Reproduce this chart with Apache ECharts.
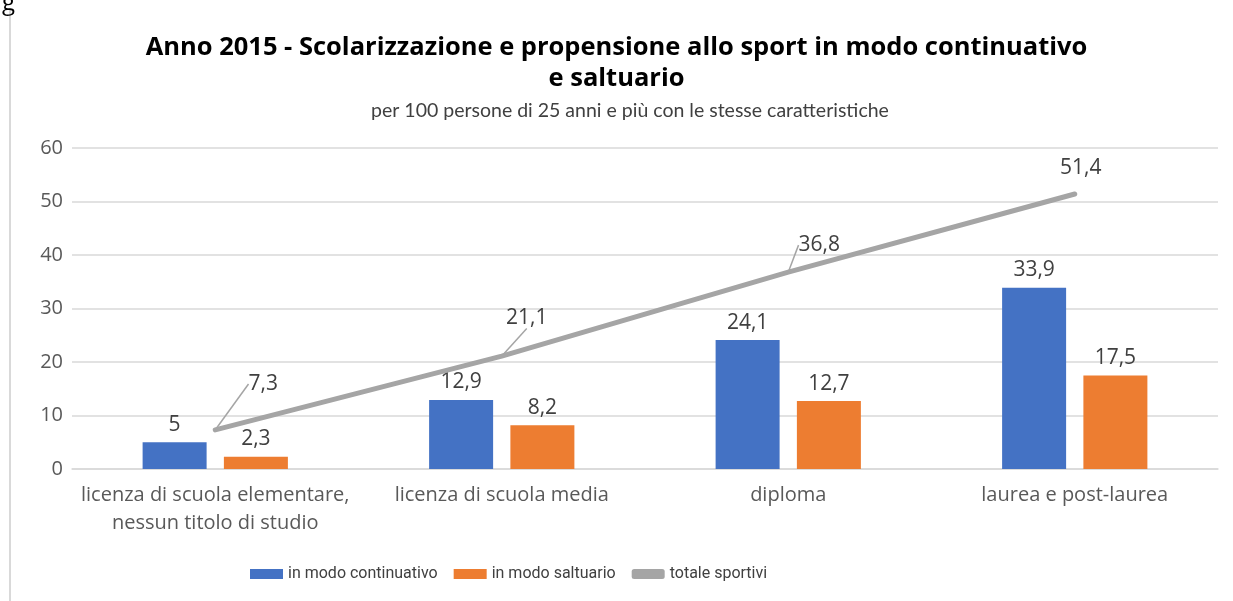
<!DOCTYPE html>
<html>
<head>
<meta charset="utf-8">
<script src="https://cdn.jsdelivr.net/npm/echarts@6/dist/echarts.min.js"></script>
<style>
  html, body { margin: 0; padding: 0; background: #fff; }
  #chart { width: 1233px; height: 601px; }
</style>
</head>
<body>
<div id="chart"></div>
<script>
const categories = ['licenza di scuola elementare,\nnessun titolo di studio', 'licenza di scuola media', 'diploma', 'laurea e post-laurea'];
const continuativo = [5, 12.9, 24.1, 33.9];
const saltuario = [2.3, 8.2, 12.7, 17.5];
const totale = [7.3, 21.1, 36.8, 51.4];
const yTicks = [0, 10, 20, 30, 40, 50, 60];

// spostamento etichette della linea (come nell'originale)
const labelShift = [[48, -30], [25, -22], [31, -11], [6, -10]];
const showLeader = [true, true, true, false];

const fontFam = '"Open Sans", sans-serif';
const fmt = v => String(v).replace('.', ',');

const chart = echarts.init(document.getElementById('chart'));
chart.setOption({
  animation: false,
  textStyle: { fontFamily: fontFam },
  title: [
    {
      text: 'Anno 2015 - Scolarizzazione e propensione allo sport in modo continuativo\ne saltuario',
      left: 'center',
      top: 27,
      textStyle: { fontSize: 25.5, fontWeight: 'bold', color: '#000', lineHeight: 31, fontFamily: fontFam }
    },
    {
      text: 'per 100 persone di 25 anni e più con le stesse caratteristiche',
      left: 366,
      top: 96,
      textStyle: { fontSize: 19.5, fontWeight: 'normal', color: '#404040', fontFamily: 'Lato, sans-serif' }
    },
    {
      text: 'g',
      left: 2,
      top: -9,
      padding: 0,
      textStyle: { fontSize: 24, fontWeight: 'normal', color: '#000', fontFamily: fontFam }
    }
  ],
  graphic: [
    { type: 'line', shape: { x1: 10, y1: 8, x2: 10, y2: 601 }, style: { stroke: '#d9d9d9', lineWidth: 2 } }
  ],
  legend: {
    bottom: 14,
    left: 245,
    itemWidth: 33,
    itemHeight: 10,
    itemGap: 16,
    textStyle: { fontSize: 16, color: '#404040', fontFamily: 'Roboto, sans-serif' },
    data: [
      { name: 'in modo continuativo', icon: 'rect' },
      { name: 'in modo saltuario', icon: 'rect' },
      { name: 'totale sportivi', icon: 'roundRect', itemStyle: { color: '#a5a5a5' } }
    ]
  },
  grid: { left: 72, right: 15, top: 148, bottom: 132 },
  xAxis: {
    type: 'category',
    data: categories,
    axisTick: { show: false },
    axisLine: { lineStyle: { color: '#d9d9d9', width: 1.5 } },
    axisLabel: { fontSize: 20, color: '#595959', margin: 12, lineHeight: 28, interval: 0 }
  },
  yAxis: {
    type: 'value',
    min: yTicks[0],
    max: yTicks[yTicks.length - 1],
    interval: 10,
    axisLine: { show: false },
    axisTick: { show: false },
    splitLine: { lineStyle: { color: '#d9d9d9', width: 1.5 } },
    axisLabel: { fontSize: 20, color: '#595959', margin: 9 }
  },
  series: [
    {
      name: 'in modo continuativo',
      type: 'bar',
      data: continuativo,
      barWidth: 64,
      barGap: '27%',
      itemStyle: { color: '#4472c4' },
      label: { show: true, position: 'top', distance: 7, fontSize: 21, color: '#404040', formatter: p => fmt(p.value) }
    },
    {
      name: 'in modo saltuario',
      type: 'bar',
      data: saltuario,
      barWidth: 64,
      itemStyle: { color: '#ed7d31' },
      label: { show: true, position: 'top', distance: 7, fontSize: 21, color: '#404040', formatter: p => fmt(p.value) }
    },
    {
      name: 'totale sportivi',
      type: 'line',
      data: totale.map((v, i) => ({ value: v, labelLine: { show: showLeader[i] } })),
      symbol: 'circle',
      symbolSize: 1,
      lineStyle: { color: '#a5a5a5', width: 5, cap: 'round' },
      itemStyle: { color: '#a5a5a5' },
      z: 5,
      label: { show: true, position: 'top', fontSize: 21, color: '#404040', formatter: p => fmt(p.value) },
      labelLine: { show: true, lineStyle: { color: '#a5a5a5', width: 1.5 } },
      labelLayout: p => ({ dx: labelShift[p.dataIndex][0], dy: labelShift[p.dataIndex][1] })
    }
  ]
});
</script>
</body>
</html>
